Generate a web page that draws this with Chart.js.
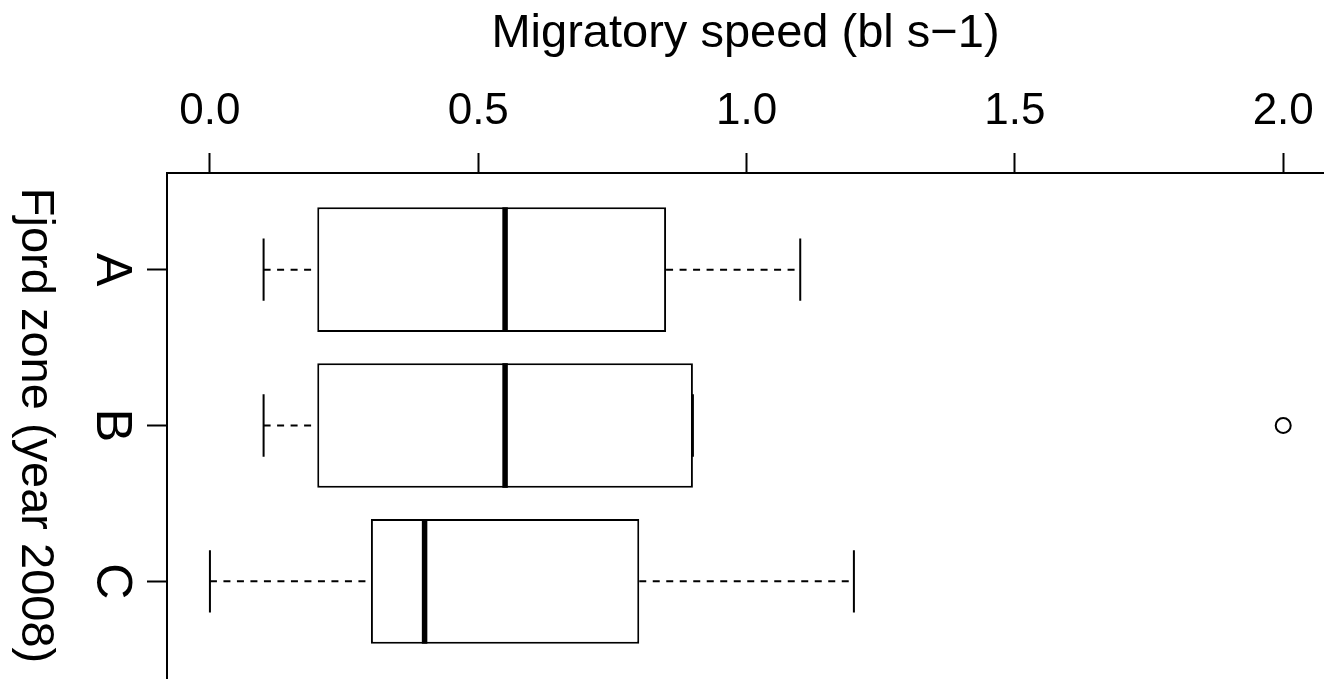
<!DOCTYPE html>
<html>
<head>
<meta charset="utf-8">
<title>Migratory speed by fjord zone</title>
<script src="https://cdn.jsdelivr.net/npm/chart.js@4.4.1/dist/chart.umd.min.js"></script>
<style>
  html, body { margin: 0; padding: 0; background: #fff; overflow: hidden; }
  #wrap { width: 1324px; height: 679px; position: relative; }
</style>
</head>
<body>
<div id="wrap"><canvas id="chart" width="1324" height="679"></canvas></div>
<script>
// Five-number summaries of migratory speed per fjord zone (2008)
const ZONES = ['A', 'B', 'C'];
const WHISKER_LOW = [0.1, 0.1, 0.0];
const Q1 = [0.2, 0.2, 0.3];
const MEDIAN = [0.55, 0.55, 0.4];
const Q3 = [0.85, 0.9, 0.8];
const WHISKER_HIGH = [1.1, 0.9, 1.2];
const OUTLIER_ZONES = ['B'];
const OUTLIER_VALUES = [2.0];

const X_TICKS = [0, 0.5, 1.0, 1.5, 2.0];
const X_TICK_LABELS = ['0.0', '0.5', '1.0', '1.5', '2.0'];
const X_TITLE = 'Migratory speed (bl s\u22121)';
const Y_TITLE = 'Fjord zone (year 2008)';

const FONT = "'Liberation Sans', Arial, Helvetica, sans-serif";
const BOX_HALF = 0.4;   // half box height in category units
const CAP_HALF = 0.2;   // half whisker-cap length

const zonePos = z => ZONES.indexOf(z) + 1;

// whiskers, caps and medians on top of the boxes
const boxDetails = {
  id: 'boxDetails',
  afterDatasetsDraw(chart) {
    const { ctx, scales: { x, y } } = chart;
    ctx.save();
    ctx.strokeStyle = '#000';
    ctx.lineCap = 'butt';
    ZONES.forEach((z, i) => {
      const p = i + 1;
      const yc = y.getPixelForValue(p);
      const capA = y.getPixelForValue(p - CAP_HALF);
      const capB = y.getPixelForValue(p + CAP_HALF);
      const boxA = y.getPixelForValue(p - BOX_HALF);
      const boxB = y.getPixelForValue(p + BOX_HALF);
      const xl = x.getPixelForValue(WHISKER_LOW[i]);
      const x1 = x.getPixelForValue(Q1[i]);
      const x3 = x.getPixelForValue(Q3[i]);
      const xh = x.getPixelForValue(WHISKER_HIGH[i]);
      const xm = x.getPixelForValue(MEDIAN[i]);

      // dashed whiskers
      ctx.lineWidth = 2;
      ctx.setLineDash([7, 6.5]);
      ctx.beginPath();
      if (xl < x1) { ctx.moveTo(xl, yc); ctx.lineTo(x1, yc); }
      if (xh > x3) { ctx.moveTo(x3, yc); ctx.lineTo(xh, yc); }
      ctx.stroke();

      // caps
      ctx.setLineDash([]);
      ctx.beginPath();
      ctx.moveTo(xl, capA); ctx.lineTo(xl, capB);
      ctx.moveTo(xh, capA); ctx.lineTo(xh, capB);
      ctx.stroke();

      // median
      ctx.lineWidth = 5.5;
      ctx.beginPath();
      ctx.moveTo(xm, boxA); ctx.lineTo(xm, boxB);
      ctx.stroke();
    });
    ctx.restore();
  }
};

// rotated zone labels and vertical axis title
const zoneLabels = {
  id: 'zoneLabels',
  afterDraw(chart) {
    const { ctx, scales: { y } } = chart;
    ctx.save();
    ctx.fillStyle = '#000';
    ctx.textAlign = 'center';
    ctx.textBaseline = 'alphabetic';
    ctx.font = `50px ${FONT}`;
    ZONES.forEach((z, i) => {
      const py = y.getPixelForValue(i + 1);
      ctx.save();
      ctx.translate(y.right - 70, py);
      ctx.rotate(Math.PI / 2);
      ctx.fillText(z, 0, 0);
      ctx.restore();
    });
    ctx.font = `47px ${FONT}`;
    const mid = (chart.chartArea.top + chart.chartArea.bottom) / 2;
    ctx.translate(22, mid);
    ctx.rotate(Math.PI / 2);
    ctx.fillText(Y_TITLE, 0, 0);
    ctx.restore();
  }
};

new Chart(document.getElementById('chart'), {
  type: 'bar',
  data: {
    datasets: [
      {
        type: 'bar',
        data: ZONES.map((z, i) => ({ y: i + 1, x: [Q1[i], Q3[i]] })),
        backgroundColor: '#fff',
        borderColor: '#000',
        borderWidth: 2,
        borderSkipped: false,
        inflateAmount: 0,
        barPercentage: 1.0,
        categoryPercentage: 2 * BOX_HALF
      },
      {
        type: 'scatter',
        data: OUTLIER_ZONES.map((z, i) => ({ y: zonePos(z), x: OUTLIER_VALUES[i] })),
        pointStyle: 'circle',
        pointRadius: 7.5,
        borderWidth: 2,
        borderColor: '#000',
        backgroundColor: 'rgba(0,0,0,0)'
      }
    ]
  },
  options: {
    indexAxis: 'y',
    responsive: false,
    animation: false,
    events: [],
    layout: { autoPadding: false, padding: { top: 0, left: 0, right: 0, bottom: 1 } },
    plugins: { legend: { display: false }, tooltip: { enabled: false } },
    scales: {
      x: {
        type: 'linear',
        position: 'top',
        min: -0.08,
        max: 2.076,
        afterBuildTicks: s => { s.ticks = X_TICKS.map(v => ({ value: v })); },
        afterFit: s => { s.height = 173; s.paddingLeft = 0; s.paddingRight = 0; },
        ticks: {
          color: '#000',
          padding: 15,
          maxRotation: 0,
          font: { family: FONT, size: 44 },
          callback: (v, idx) => X_TICK_LABELS[idx]
        },
        grid: { drawOnChartArea: false, drawTicks: true, tickLength: 20, tickWidth: 2, tickColor: '#000' },
        border: { display: true, color: '#000', width: 2 },
        title: {
          display: true,
          text: X_TITLE,
          color: '#000',
          font: { family: FONT, size: 47 },
          padding: { top: 5.5, bottom: 0 }
        }
      },
      y: {
        type: 'linear',
        min: 0.38,
        max: 3.62,
        reverse: true,
        offset: false,
        afterBuildTicks: s => { s.ticks = ZONES.map((z, i) => ({ value: i + 1 })); },
        afterFit: s => { s.width = 167; s.paddingTop = 0; s.paddingBottom = 0; },
        ticks: { display: false },
        grid: { drawOnChartArea: false, drawTicks: true, tickLength: 20, tickWidth: 2, tickColor: '#000', offset: false },
        border: { display: true, color: '#000', width: 2 }
      }
    }
  },
  plugins: [boxDetails, zoneLabels]
});
</script>
</body>
</html>
